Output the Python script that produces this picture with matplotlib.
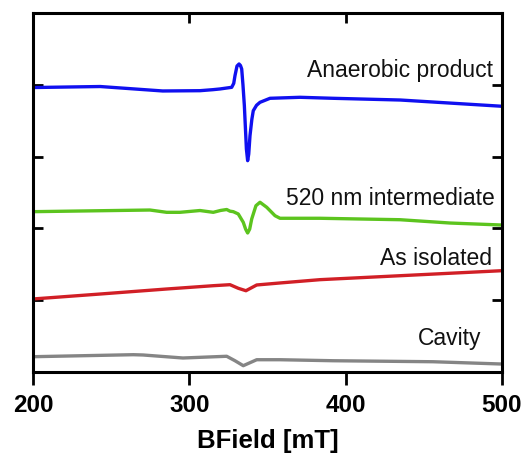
import matplotlib
matplotlib.use("Agg")
import matplotlib.pyplot as plt

plt.rcParams['font.family'] = ['Liberation Sans', 'DejaVu Sans']

# BField [mT] and offset EPR intensity (arbitrary units)
blue_x = [200, 243, 283, 306.8, 315, 319.6, 327.1, 328.4, 329.2, 330.5, 331.8, 332.7, 333.5,
          334.3, 335.2, 336.5, 337.3, 338.0, 338.8, 340.0, 340.9, 343.0, 345.2, 351.6, 370.8,
          392, 435, 500]
blue_y = [3.962, 3.976, 3.914, 3.918, 3.932, 3.942, 3.965, 4.020, 4.127, 4.262, 4.290, 4.269, 4.220,
          4.000, 3.709, 3.106, 2.943, 3.036, 3.291, 3.520, 3.639, 3.715, 3.756, 3.812, 3.826,
          3.812, 3.788, 3.701]

green_x = [200, 274.8, 285.5, 294.0, 306.8, 315.3, 320.0, 323.9, 326.0, 328.1, 331.3, 334.5,
           336.0, 337.3, 338.6, 339.9, 342.6, 345.2, 349.5, 354.8, 358.0, 383.6, 434.8, 466.7, 500]
green_y = [2.233, 2.256, 2.224, 2.224, 2.249, 2.224, 2.250, 2.263, 2.240, 2.233, 2.201, 2.085,
           1.990, 1.936, 1.990, 2.131, 2.316, 2.364, 2.294, 2.177, 2.141, 2.141, 2.121, 2.075, 2.047]

red_x = [200, 242.9, 285.5, 315.3, 326.0, 331.3, 336.2, 343.1, 358.0, 383.6, 434.8, 500]
red_y = [1.017, 1.086, 1.156, 1.202, 1.216, 1.166, 1.132, 1.212, 1.240, 1.286, 1.341, 1.411]

gray_x = [200, 264.2, 270.4, 295.9, 323.9, 329.2, 334.5, 343.1, 358.0, 391.9, 455.9, 500]
gray_y = [0.213, 0.241, 0.237, 0.195, 0.219, 0.157, 0.088, 0.171, 0.171, 0.157, 0.143, 0.111]

labels = ["Anaerobic product", "520 nm intermediate", "As isolated", "Cavity"]
label_x = [494.1, 495.5, 493.4, 487.0]
label_y = [4.127, 2.34, 1.504, 0.39]
colors = ["#1010f0", "#5cc41e", "#d11f26", "#858585"]

xticks = [200, 300, 400, 500]
yticks = [1, 2, 3, 4]

fig = plt.figure(figsize=(5.24, 4.56), dpi=100)
ax = fig.add_axes([33/524, 1-373/456, (502-33)/524, (373-14)/456])

series = [(blue_x, blue_y), (green_x, green_y), (red_x, red_y), (gray_x, gray_y)]
for (xs, ys), c in zip(series, colors):
    ax.plot(xs, ys, color=c, lw=2.4, solid_capstyle='round', solid_joinstyle='round')

for t, x, y in zip(labels, label_x, label_y):
    ax.text(x, y, t, ha='right', va='baseline', fontsize=16.5, color='#111111')

ax.set_xlim(200, 500)
ax.set_ylim(0, 5)
ax.set_xticks(xticks)
ax.set_xticklabels([str(v) for v in xticks], fontweight='bold', fontsize=17.5)
ax.set_yticks(yticks)
ax.set_yticklabels([])
ax.tick_params(axis='x', direction='out', length=9, width=2, pad=6)
ax.tick_params(axis='y', direction='in', length=7, width=2, left=True, right=True)
for s in ax.spines.values():
    s.set_linewidth(2.2)

top = ax.twiny()
top.set_xlim(200, 500)
top.set_xticks(xticks)
top.set_xticklabels([])
top.tick_params(axis='x', direction='in', length=7, width=2)

ax.set_xlabel("BField [mT]", fontweight='bold', fontsize=18.5, labelpad=9)

fig.savefig("out.png", dpi=100)
